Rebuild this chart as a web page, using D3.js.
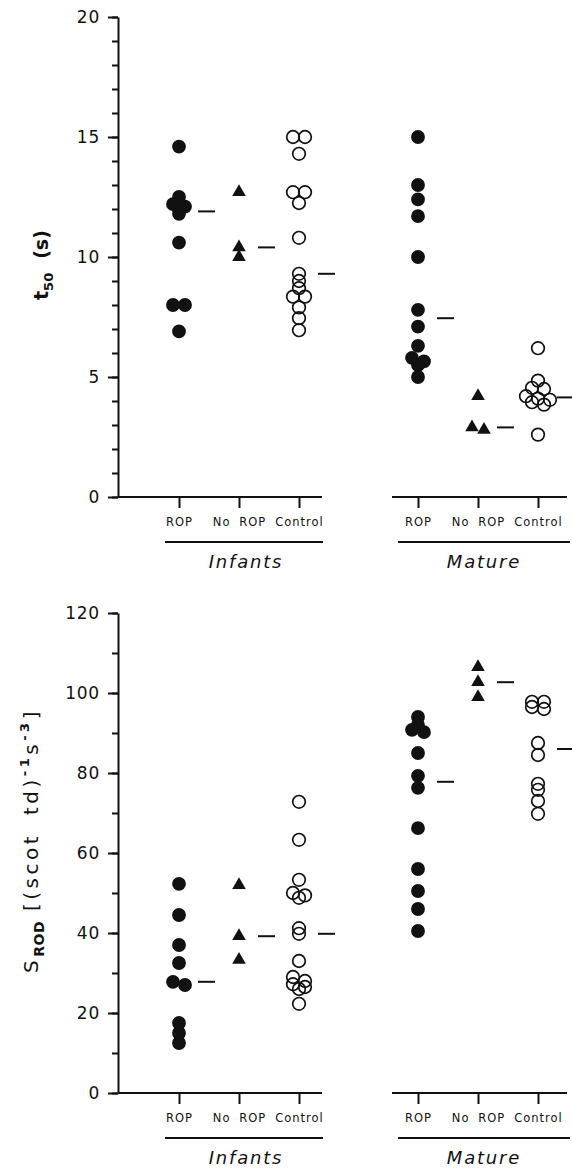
<!DOCTYPE html>
<html>
<head>
<meta charset="utf-8">
<script src="https://cdn.jsdelivr.net/npm/d3@7"></script>
<style>
  body { margin: 0; background: #fff; }
  svg { display: block; font-family: "DejaVu Sans", sans-serif; }
  .axis path, .axis line { stroke: #111; stroke-width: 2; }
  .axis text { fill: #111; }
</style>
</head>
<body>
<div id="chart"></div>
<script>
// categories and groups
const categories = ["ROP", "No ROP", "Control"];
const groups = ["Infants", "Mature"];

// t50 (s)
const t50Ticks = [0, 5, 10, 15, 20];
const t50InfantsROP = [14.6, 12.5, 12.2, 12.1, 12.0, 11.8, 10.6, 8.0, 8.0, 6.9];
const t50InfantsNoROP = [12.7, 10.4, 10.0];
const t50InfantsControl = [15.0, 15.0, 14.3, 12.7, 12.7, 12.25, 10.8, 9.3, 9.0, 8.7, 8.35, 8.35, 7.9, 7.45, 6.95];
const t50MatureROP = [15.0, 13.0, 12.4, 11.7, 10.0, 7.8, 7.1, 6.3, 5.8, 5.65, 5.5, 5.0];
const t50MatureNoROP = [4.2, 2.9, 2.8];
const t50MatureControl = [6.2, 4.85, 4.55, 4.5, 4.2, 4.1, 4.05, 3.95, 3.85, 2.6];

// S_ROD
const srodTicks = [0, 20, 40, 60, 80, 100, 120];
const srodInfantsROP = [52.3, 44.5, 37.0, 32.5, 27.8, 27.0, 17.5, 15.0, 12.5];
const srodInfantsNoROP = [52.0, 39.2, 33.3];
const srodInfantsControl = [72.8, 63.3, 53.3, 50.0, 49.4, 48.8, 41.2, 39.8, 33.0, 29.0, 28.0, 27.2, 26.5, 26.0, 22.3];
const srodMatureROP = [94.0, 92.0, 90.8, 90.2, 85.0, 79.3, 76.3, 66.2, 56.0, 50.5, 46.0, 40.5];
const srodMatureNoROP = [106.5, 102.7, 99.0];
const srodMatureControl = [97.8, 97.8, 96.5, 96.0, 87.5, 84.5, 77.3, 75.8, 73.0, 69.8];

const ink = "#111";
const W = 572, H = 1169;

const svg = d3.select("#chart").append("svg")
    .attr("width", W).attr("height", H);

// horizontal layout of the two groups
const groupLayout = {
    Infants: {ticks: [179, 299], line: [118, 322], under: [165, 323], label: 246},
    Mature:  {ticks: [418, 538], line: [392, 567], under: [398, 570], label: 484}
};
const xScales = {};
groups.forEach(g => {
    xScales[g] = d3.scalePoint().domain(categories).range(groupLayout[g].ticks);
});

const symbolOf = {
    "ROP":     {type: d3.symbolCircle,   size: 150, fill: ink,    stroke: "none", sw: 0},
    "No ROP":  {type: d3.symbolTriangle, size: 80,  fill: ink,    stroke: "none", sw: 0},
    "Control": {type: d3.symbolCircle,   size: 125, fill: "none", stroke: ink,    sw: 1.7}
};

/* spread points with (almost) equal values side by side */
function dodge(values, y, gap, step) {
    let pts = values.map(v => ({v: v, py: y(v)})).sort((a, b) => a.py - b.py);
    let bins = [];
    pts.forEach(d => {
        let last = bins[bins.length - 1];
        if (last && d.py - last[0].py < gap) last.push(d);
        else bins.push([d]);
    });
    bins.forEach(b => b.forEach((d, i) => { d.dx = (i - (b.length - 1) / 2) * step; }));
    return pts;
}

function drawPanel(cfg) {
    let y = d3.scaleLinear().domain(cfg.domain).range([cfg.y0, cfg.y1]);
    let g = svg.append("g");

    // minor ticks
    g.append("g").attr("class", "axis")
        .attr("transform", "translate(118,0)")
        .call(d3.axisLeft(y).tickValues(d3.range(cfg.domain[0], cfg.domain[1] + 0.001, cfg.minor))
            .tickSize(6).tickSizeOuter(0).tickFormat(""))
        .select(".domain").remove();

    // major ticks
    let yAxis = g.append("g").attr("class", "axis")
        .attr("transform", "translate(118,0)")
        .call(d3.axisLeft(y).tickValues(cfg.ticks).tickSize(10).tickSizeOuter(0).tickPadding(8));
    yAxis.selectAll("text")
        .attr("font-size", 17).attr("letter-spacing", 0.8)
        .attr("font-family", "DejaVu Sans");

    // x axes per group
    groups.forEach(grp => {
        let L = groupLayout[grp];
        let xa = g.append("g").attr("class", "axis")
            .attr("transform", "translate(0," + cfg.y0 + ")")
            .call(d3.axisBottom(xScales[grp]).tickSize(11).tickSizeOuter(0).tickPadding(10));
        xa.select(".domain").remove();
        xa.append("line")
            .attr("x1", L.line[0]).attr("x2", L.line[1])
            .attr("y1", 0).attr("y2", 0)
            .attr("stroke", ink).attr("stroke-width", 2);
        xa.selectAll(".tick text")
            .attr("font-size", 11.5).attr("letter-spacing", 1)
            .attr("word-spacing", 4)
            .attr("font-family", "DejaVu Sans");

        g.append("line")
            .attr("x1", L.under[0]).attr("x2", L.under[1])
            .attr("y1", cfg.y0 + 45).attr("y2", cfg.y0 + 45)
            .attr("stroke", ink).attr("stroke-width", 2);
        g.append("text")
            .attr("x", L.label).attr("y", cfg.y0 + 71)
            .attr("text-anchor", "middle")
            .attr("font-size", 18).attr("font-style", "italic")
            .attr("letter-spacing", 1.8)
            .attr("fill", ink)
            .text(grp);

        // points and median lines
        categories.forEach(cat => {
            let vals = cfg.data[grp][cat];
            let cx = xScales[grp](cat);
            let sym = symbolOf[cat];
            let pts = dodge(vals, y, 4, 12);
            g.selectAll(null).data(pts).enter().append("path")
                .attr("d", d3.symbol().type(sym.type).size(sym.size))
                .attr("transform", d => "translate(" + (cx + d.dx) + "," + d.py + ")")
                .attr("fill", sym.fill)
                .attr("stroke", sym.stroke)
                .attr("stroke-width", sym.sw);
            let med = d3.median(vals);
            g.append("line")
                .attr("x1", cx + 19).attr("x2", cx + 36)
                .attr("y1", y(med)).attr("y2", y(med))
                .attr("stroke", ink).attr("stroke-width", 2);
        });
    });

    cfg.title(g);
}

drawPanel({
    domain: [0, 20], y0: 497, y1: 17, ticks: t50Ticks, minor: 1,
    data: {
        Infants: {"ROP": t50InfantsROP, "No ROP": t50InfantsNoROP, "Control": t50InfantsControl},
        Mature:  {"ROP": t50MatureROP, "No ROP": t50MatureNoROP, "Control": t50MatureControl}
    },
    title: function(g) {
        let t = g.append("text")
            .attr("transform", "translate(48,300) rotate(-90)")
            .attr("font-weight", "bold").attr("fill", ink)
            .attr("font-size", 19);
        t.append("tspan").text("t");
        t.append("tspan").attr("font-size", 13).attr("dy", 5).text("50");
        t.append("tspan").attr("dy", -5).attr("dx", 14).text("(s)");
    }
});

drawPanel({
    domain: [0, 120], y0: 1093, y1: 613, ticks: srodTicks, minor: 10,
    data: {
        Infants: {"ROP": srodInfantsROP, "No ROP": srodInfantsNoROP, "Control": srodInfantsControl},
        Mature:  {"ROP": srodMatureROP, "No ROP": srodMatureNoROP, "Control": srodMatureControl}
    },
    title: function(g) {
        let t = g.append("text")
            .attr("transform", "translate(38,973) rotate(-90)")
            .attr("fill", ink).attr("font-size", 20)
            .attr("letter-spacing", 3.5).attr("word-spacing", 8);
        t.append("tspan").text("S");
        t.append("tspan").attr("font-size", 14).attr("font-weight", "bold").attr("dy", 6).attr("letter-spacing", 0.5).text("ROD");
        t.append("tspan").attr("dy", -6).attr("dx", 10).text("[(scot td)");
        t.append("tspan").attr("font-size", 13).attr("font-weight", "bold").attr("dy", -9).text("-1");
        t.append("tspan").attr("dy", 9).text("s");
        t.append("tspan").attr("font-size", 13).attr("font-weight", "bold").attr("dy", -9).text("-3");
        t.append("tspan").attr("dy", 9).text("]");
    }
});
</script>
</body>
</html>
